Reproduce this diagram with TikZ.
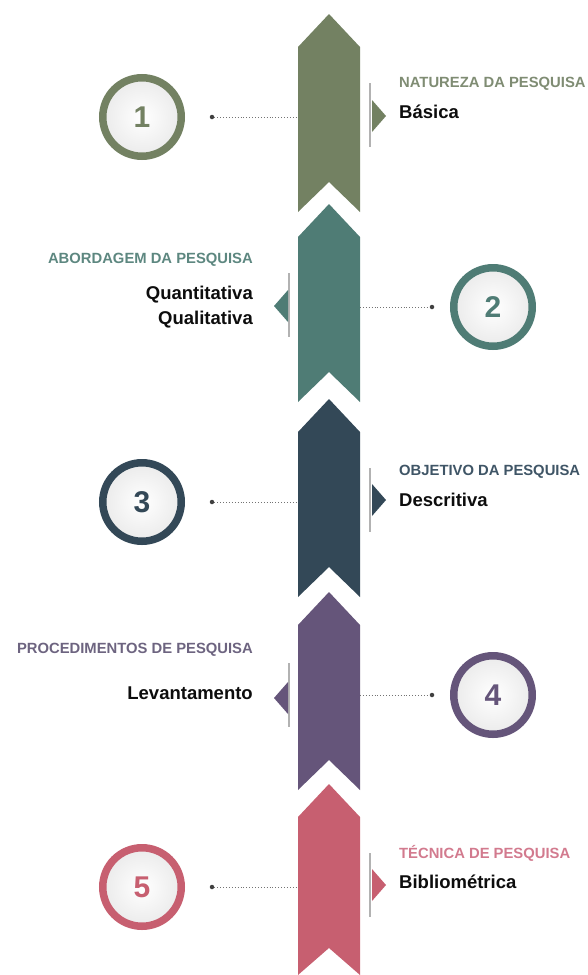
\documentclass[tikz,border=0pt]{standalone}
\usepackage{fontspec}
\setmainfont{Liberation Sans}
\usepackage{tikz}
\usetikzlibrary{positioning}

\definecolor{olive}{HTML}{738162}
\definecolor{oliveh}{HTML}{7F8C73}
\definecolor{teal}{HTML}{4F7C75}
\definecolor{tealh}{HTML}{5D8780}
\definecolor{slate}{HTML}{334857}
\definecolor{slateh}{HTML}{3F5566}
\definecolor{plum}{HTML}{65557A}
\definecolor{plumh}{HTML}{6D6480}
\definecolor{rose}{HTML}{C75F70}
\definecolor{roseh}{HTML}{D27A8E}

\begin{document}
\begin{tikzpicture}[
    x=1pt, y=-1pt,
    numring/.style={circle, draw=#1, line width=7.5pt, minimum size=78.5pt, inner sep=0pt,
        inner color=white, outer color=black!8, text=#1,
        font=\fontsize{30}{30}\selectfont\bfseries},
    dotnode/.style={circle, fill=black!75, minimum size=4.5pt, inner sep=0pt},
    link/.style={draw=black!55, dotted, line width=0.9pt},
    tick/.style={draw=black!30, line width=1.2pt},
    head/.style={font=\fontsize{14.8}{16}\selectfont\bfseries, inner sep=0pt},
    item/.style={font=\fontsize{18.5}{20}\selectfont\bfseries, text=black!95, inner sep=0pt}
]
    \useasboundingbox (0,0) rectangle (588,975);

    % ribbon
    \fill[olive] (298,47) -- (329,14) -- (360,47) -- (360,212) -- (329,182) -- (298,212) -- cycle;
    \fill[teal]  (298,237) -- (329,204) -- (360,237) -- (360,402) -- (329,372) -- (298,402) -- cycle;
    \fill[slate] (298,432) -- (329,399) -- (360,432) -- (360,597) -- (329,567) -- (298,597) -- cycle;
    \fill[plum]  (298,625) -- (329,592) -- (360,625) -- (360,790) -- (329,760) -- (298,790) -- cycle;
    \fill[rose]  (298,817) -- (329,784) -- (360,817) -- (360,975) -- (329,948) -- (298,975) -- cycle;

    \coordinate (r1) at (298,117);
    \coordinate (r2) at (360,307);
    \coordinate (r3) at (298,502);
    \coordinate (r4) at (360,695);
    \coordinate (r5) at (298,887);

    % number circles
    \node[numring=olive] (n1) at (142,117) {1};
    \node[numring=teal]  (n2) at (493,307) {2};
    \node[numring=slate] (n3) at (142,502) {3};
    \node[numring=plum]  (n4) at (493,695) {4};
    \node[numring=rose]  (n5) at (142,887) {5};

    \node[dotnode] (d1) at (212,117) {};
    \node[dotnode] (d2) at (432,307) {};
    \node[dotnode] (d3) at (212,502) {};
    \node[dotnode] (d4) at (432,695) {};
    \node[dotnode] (d5) at (212,887) {};

    \draw[link] (d1) -- (r1);
    \draw[link] (r2) -- (d2);
    \draw[link] (d3) -- (r3);
    \draw[link] (r4) -- (d4);
    \draw[link] (d5) -- (r5);

    % side markers
    \draw[tick] (370,83) -- (370,147);
    \fill[olive] (372,100) -- (386,116) -- (372,132) -- cycle;
    \draw[tick] (289,273) -- (289,337);
    \fill[teal] (288,290) -- (274,306) -- (288,322) -- cycle;
    \draw[tick] (370,468) -- (370,532);
    \fill[slate] (372,484) -- (386,500) -- (372,516) -- cycle;
    \draw[tick] (289,663) -- (289,727);
    \fill[plum] (288,682) -- (274,698) -- (288,714) -- cycle;
    \draw[tick] (370,853) -- (370,917);
    \fill[rose] (372,869) -- (386,885) -- (372,901) -- cycle;

    % texts
    \node[head, text=oliveh, anchor=base west] (h1) at (399,87) {NATUREZA DA PESQUISA};
    \node[item, anchor=base west] (t1) at (399,118) {Básica};
    \node[head, text=tealh, anchor=base east] (h2) at (253,263) {ABORDAGEM DA PESQUISA};
    \node[item, anchor=base east] (t2) at (253,299) {Quantitativa};
    \node[item, anchor=base east] (t2b) at (253,324) {Qualitativa};
    \node[head, text=slateh, anchor=base west] (h3) at (399,475) {OBJETIVO DA PESQUISA};
    \node[item, anchor=base west] (t3) at (399,506) {Descritiva};
    \node[head, text=plumh, anchor=base east] (h4) at (253,653) {PROCEDIMENTOS DE PESQUISA};
    \node[item, anchor=base east] (t4) at (253,699) {Levantamento};
    \node[head, text=roseh, anchor=base west] (h5) at (399,858) {TÉCNICA DE PESQUISA};
    \node[item, anchor=base west] (t5) at (399,888) {Bibliométrica};
\end{tikzpicture}
\end{document}
